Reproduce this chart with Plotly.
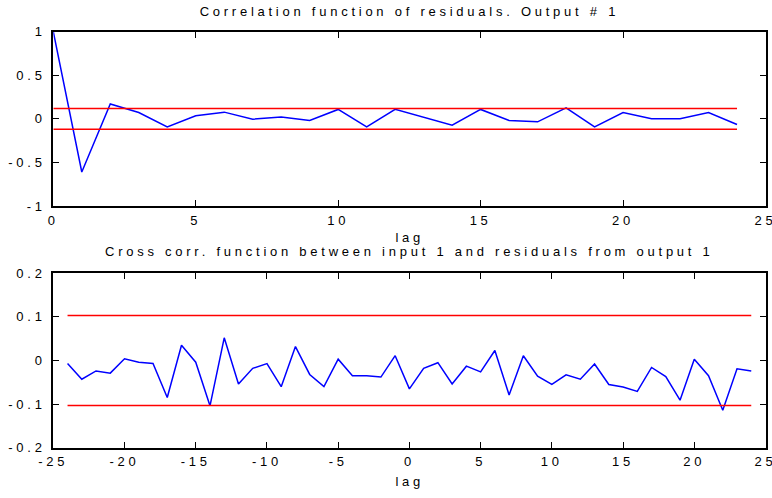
import plotly.graph_objects as go

# ---- data ----
auto_lags = list(range(0, 25))
auto_corr = [1.0, -0.61, 0.17, 0.073, -0.092, 0.035, 0.077, -0.004, 0.02, -0.019,
             0.108, -0.092, 0.11, 0.023, -0.072, 0.108, -0.019, -0.034, 0.126, -0.092,
             0.073, 0.0, 0.0, 0.073, -0.065]
auto_conf = 0.119

cross_lags = list(range(-24, 25))
cross_corr = [-0.007, -0.043, -0.024, -0.029, 0.004, -0.004, -0.007, -0.085, 0.035, -0.004,
              -0.104, 0.052, -0.054, -0.018, -0.007, -0.06, 0.032, -0.032, -0.06, 0.003,
              -0.035, -0.035, -0.038, 0.011, -0.065, -0.018, -0.005, -0.054, -0.013, -0.026,
              0.023, -0.079, 0.011, -0.036, -0.055, -0.033, -0.043, -0.008, -0.055, -0.061,
              -0.071, -0.016, -0.037, -0.091, 0.003, -0.035, -0.114, -0.019, -0.024]
cross_conf = 0.103

top_xticks = [0, 5, 10, 15, 20, 25]
top_xtext = ["0", "5", "10", "15", "20", "25"]
top_yticks = [-1, -0.5, 0, 0.5, 1]
top_ytext = ["-1", "-0.5", "0", "0.5", "1"]
bot_xticks = [-25, -20, -15, -10, -5, 0, 5, 10, 15, 20, 25]
bot_xtext = ["-25", "-20", "-15", "-10", "-5", "0", "5", "10", "15", "20", "25"]
bot_yticks = [-0.2, -0.1, 0, 0.1, 0.2]
bot_ytext = ["-0.2", "-0.1", "0", "0.1", "0.2"]

title_top = "Correlation function of residuals. Output # 1"
title_bot = "Cross corr. function between input 1 and residuals from output 1"
xlabel = "lag"

W, H = 772, 498
FONT = dict(family="Liberation Sans, Arial, sans-serif", size=13, color="black")

fig = go.Figure()

# top subplot
fig.add_trace(go.Scatter(x=auto_lags, y=auto_corr, mode="lines",
                         line=dict(color="#0000FF", width=1.5), xaxis="x", yaxis="y"))
for s in (1, -1):
    fig.add_trace(go.Scatter(x=[auto_lags[0], auto_lags[-1]], y=[s * auto_conf, s * auto_conf],
                             mode="lines", line=dict(color="#FF0000", width=1.5),
                             xaxis="x", yaxis="y"))
# bottom subplot
fig.add_trace(go.Scatter(x=cross_lags, y=cross_corr, mode="lines",
                         line=dict(color="#0000FF", width=1.5), xaxis="x2", yaxis="y2"))
for s in (1, -1):
    fig.add_trace(go.Scatter(x=[cross_lags[0], cross_lags[-1]], y=[s * cross_conf, s * cross_conf],
                             mode="lines", line=dict(color="#FF0000", width=1.5),
                             xaxis="x2", yaxis="y2"))

xdom = [53.3 / W, 765.5 / W]
top_dom = [1 - 206 / H, 1 - 31.7 / H]
bot_dom = [1 - 447.7 / H, 1 - 273.3 / H]

axis_common = dict(showline=True, linecolor="black", linewidth=2, mirror="ticks",
                   ticks="inside", ticklen=6, tickwidth=1, tickcolor="black",
                   showgrid=False, zeroline=False, tickfont=FONT, automargin=False,
                   ticklabeloverflow="allow")

fig.update_layout(
    width=W, height=H, margin=dict(l=0, r=0, t=0, b=0, autoexpand=False),
    paper_bgcolor="white", plot_bgcolor="white", showlegend=False,
    font=FONT,
    xaxis=dict(domain=xdom, anchor="y", range=[0, 25], tickvals=top_xticks,
               ticktext=top_xtext, ticklabelstandoff=1, **axis_common),
    yaxis=dict(domain=top_dom, anchor="x", range=[-1, 1], tickvals=top_yticks,
               ticktext=top_ytext, ticklabelstandoff=3, **axis_common),
    xaxis2=dict(domain=xdom, anchor="y2", range=[-25, 25], tickvals=bot_xticks,
                ticktext=bot_xtext, ticklabelstandoff=1, **axis_common),
    yaxis2=dict(domain=bot_dom, anchor="x2", range=[-0.2, 0.2], tickvals=bot_yticks,
                ticktext=bot_ytext, ticklabelstandoff=3, **axis_common),
)

cx = (xdom[0] + xdom[1]) / 2
annots = [
    (title_top, 1 - 11 / H),
    (xlabel, 1 - 238 / H),
    (title_bot, 1 - 252 / H),
    (xlabel, 1 - 481 / H),
]
for txt, yy in annots:
    fig.add_annotation(text=txt, x=cx, y=yy, xref="paper", yref="paper",
                       xanchor="center", yanchor="middle", showarrow=False, font=FONT)

post = """
var gd = document.getElementById('{plot_id}');
gd.querySelectorAll('text').forEach(function(t){ t.style.letterSpacing = '3.75px'; });
"""
fig.write_html("out.html", post_script=post)
